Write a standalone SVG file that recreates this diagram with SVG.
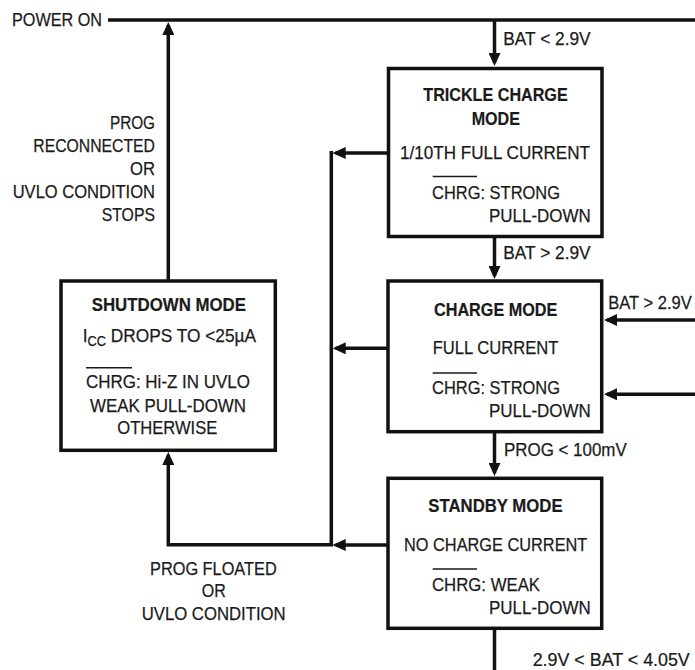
<svg xmlns="http://www.w3.org/2000/svg" width="695" height="670" viewBox="0 0 695 670">
<style>
  text { font-family: "Liberation Sans", Arial, sans-serif; font-size: 19px; fill: #1a1a1a; stroke: #1a1a1a; stroke-width: 0.25; }
  .b { font-weight: bold; font-size: 18.5px; stroke-width: 0.2; }
  .box { fill: #ffffff; stroke: #111111; stroke-width: 3.5; }
  .wire { fill: none; stroke: #111111; stroke-width: 3.5; stroke-linecap: butt; }
  .arr { fill: none; stroke: #111111; stroke-width: 3.5; marker-end: url(#ah); }
  .ovl { stroke: #1a1a1a; stroke-width: 1.4; }
</style>
<defs>
  <marker id="ah" markerUnits="userSpaceOnUse" viewBox="0 0 13 12" markerWidth="13" markerHeight="12" refX="10" refY="6" orient="auto">
    <path d="M0,0 L13,6 L0,12 Z" fill="#111111"/>
  </marker>
</defs>
<rect width="695" height="670" fill="#ffffff"/>

<g id="connectors">
  <line class="wire" x1="108" y1="20" x2="695" y2="20"/>
  <text x="12" y="26" textLength="90" lengthAdjust="spacingAndGlyphs">POWER ON</text>
  <!-- shutdown up to power on -->
  <line class="arr" x1="168.3" y1="281" x2="168.3" y2="25"/>
  <!-- power on down to trickle -->
  <line class="arr" x1="494.5" y1="20" x2="494.5" y2="63"/>
  <text x="503.3" y="44.5" textLength="87.3" lengthAdjust="spacingAndGlyphs">BAT &lt; 2.9V</text>
  <!-- trickle to charge -->
  <line class="arr" x1="494.5" y1="237" x2="494.5" y2="276"/>
  <text x="503.3" y="259" textLength="87.3" lengthAdjust="spacingAndGlyphs">BAT &gt; 2.9V</text>
  <!-- charge to standby -->
  <line class="arr" x1="494.5" y1="432" x2="494.5" y2="473"/>
  <text x="504" y="455.5" textLength="122.7" lengthAdjust="spacingAndGlyphs">PROG &lt; 100mV</text>
  <!-- standby down -->
  <line class="wire" x1="494.5" y1="628" x2="494.5" y2="670"/>
  <text transform="translate(532.7,665.5) scale(0.94,1)" x="0" y="0">2.9V &lt; BAT &lt; 4.05V</text>
  <!-- right inputs into charge -->
  <line class="arr" x1="695" y1="320" x2="607" y2="320"/>
  <text transform="translate(608.3,309) scale(0.87,1)" x="0" y="0">BAT &gt; 2.9V</text>
  <line class="arr" x1="695" y1="394.3" x2="607" y2="394.3"/>
  <!-- left outputs -->
  <line class="arr" x1="388" y1="153" x2="335.7" y2="153"/>
  <line class="arr" x1="388" y1="348.3" x2="335.7" y2="348.3"/>
  <line class="arr" x1="388" y1="545" x2="335.7" y2="545"/>
  <!-- bus to shutdown -->
  <path class="arr" d="M331.3,151 V544.8 H168.3 V455"/>
  <text x="155" y="129" text-anchor="end" textLength="45" lengthAdjust="spacingAndGlyphs">PROG</text>
  <text x="155" y="152" text-anchor="end" textLength="121.7" lengthAdjust="spacingAndGlyphs">RECONNECTED</text>
  <text x="155" y="175" text-anchor="end" textLength="25" lengthAdjust="spacingAndGlyphs">OR</text>
  <text x="155" y="197.5" text-anchor="end" textLength="142.3" lengthAdjust="spacingAndGlyphs">UVLO CONDITION</text>
  <text x="155" y="220.5" text-anchor="end" textLength="53.3" lengthAdjust="spacingAndGlyphs">STOPS</text>
  <text x="150" y="575" textLength="126.7" lengthAdjust="spacingAndGlyphs">PROG FLOATED</text>
  <text x="201.7" y="597.3" textLength="24" lengthAdjust="spacingAndGlyphs">OR</text>
  <text x="141.7" y="620" textLength="144" lengthAdjust="spacingAndGlyphs">UVLO CONDITION</text>
</g>

<g id="trickle">
  <rect class="box" x="388.5" y="68.5" width="213.5" height="168"/>
  <text class="b" x="423.3" y="101" textLength="144.4" lengthAdjust="spacingAndGlyphs">TRICKLE CHARGE</text>
  <text class="b" x="471.7" y="124.5" textLength="48.3" lengthAdjust="spacingAndGlyphs">MODE</text>
  <text x="400" y="158.5" textLength="190" lengthAdjust="spacingAndGlyphs">1/10TH FULL CURRENT</text>
  <line class="ovl" x1="432.7" y1="176.5" x2="477" y2="176.5"/>
  <text x="432" y="198.5" textLength="128" lengthAdjust="spacingAndGlyphs">CHRG: STRONG</text>
  <text x="489" y="222" textLength="101.7" lengthAdjust="spacingAndGlyphs">PULL-DOWN</text>
</g>

<g id="charge">
  <rect class="box" x="388" y="281" width="213.7" height="150.7"/>
  <text class="b" x="434" y="315.7" textLength="123.3" lengthAdjust="spacingAndGlyphs">CHARGE MODE</text>
  <text x="432.7" y="354" textLength="125.7" lengthAdjust="spacingAndGlyphs">FULL CURRENT</text>
  <line class="ovl" x1="432.7" y1="373" x2="477" y2="373"/>
  <text x="432" y="394" textLength="128" lengthAdjust="spacingAndGlyphs">CHRG: STRONG</text>
  <text x="489" y="417.3" textLength="101.7" lengthAdjust="spacingAndGlyphs">PULL-DOWN</text>
</g>

<g id="standby">
  <rect class="box" x="388" y="478.3" width="213.7" height="150"/>
  <text class="b" x="428.3" y="512.3" textLength="134.3" lengthAdjust="spacingAndGlyphs">STANDBY MODE</text>
  <text x="404" y="550.7" textLength="183.3" lengthAdjust="spacingAndGlyphs">NO CHARGE CURRENT</text>
  <line class="ovl" x1="432.7" y1="569" x2="477" y2="569"/>
  <text x="432" y="590.7" textLength="108" lengthAdjust="spacingAndGlyphs">CHRG: WEAK</text>
  <text x="489" y="614" textLength="101.7" lengthAdjust="spacingAndGlyphs">PULL-DOWN</text>
</g>

<g id="shutdown">
  <rect class="box" x="61" y="281" width="214.3" height="169.3"/>
  <text class="b" x="91.7" y="311" textLength="154.3" lengthAdjust="spacingAndGlyphs">SHUTDOWN MODE</text>
  <text x="82.7" y="342" textLength="173.3" lengthAdjust="spacingAndGlyphs">I<tspan font-size="14" dy="4">CC</tspan><tspan dy="-4"> DROPS TO &lt;25µA</tspan></text>
  <line class="ovl" x1="86" y1="367.7" x2="132" y2="367.7"/>
  <text x="86" y="388.3" textLength="164" lengthAdjust="spacingAndGlyphs">CHRG: Hi-Z IN UVLO</text>
  <text x="90" y="411.7" textLength="156" lengthAdjust="spacingAndGlyphs">WEAK PULL-DOWN</text>
  <text x="117.3" y="434" textLength="100" lengthAdjust="spacingAndGlyphs">OTHERWISE</text>
</g>
</svg>
